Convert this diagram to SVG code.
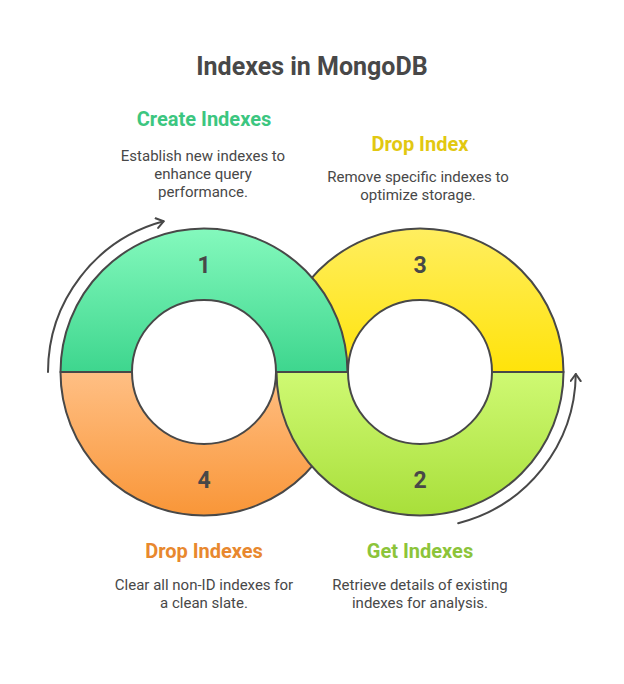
<svg xmlns="http://www.w3.org/2000/svg" width="624" height="684" viewBox="0 0 624 684">
<style>
.seg{stroke:#484848;stroke-width:2;stroke-linejoin:round}
.num{font-family:Roboto,"Liberation Sans",sans-serif;font-weight:700;font-size:23px;fill:#484848;text-anchor:middle}
.ttl{font-family:Roboto,"Liberation Sans",sans-serif;font-weight:700;font-size:20px;text-anchor:middle}
.desc{font-family:Roboto,"Liberation Sans",sans-serif;font-size:15px;fill:#484848;text-anchor:middle}
.arc{fill:none;stroke:#484848;stroke-width:2;stroke-linecap:round}
</style>
<defs>
<linearGradient id="gGreen" x1="0" y1="0" x2="0" y2="1"><stop offset="0" stop-color="#84F9BD"/><stop offset="1" stop-color="#3ED68E"/></linearGradient>
<linearGradient id="gOrange" x1="0" y1="0" x2="0" y2="1"><stop offset="0" stop-color="#FFBF84"/><stop offset="1" stop-color="#F99638"/></linearGradient>
<linearGradient id="gYellow" x1="0" y1="0" x2="0" y2="1"><stop offset="0" stop-color="#FFEE60"/><stop offset="1" stop-color="#FFE30A"/></linearGradient>
<linearGradient id="gLime" x1="0" y1="0" x2="0" y2="1"><stop offset="0" stop-color="#CFF973"/><stop offset="1" stop-color="#A8DF3A"/></linearGradient>
<marker id="arrow" viewBox="0 0 12 12" refX="10" refY="6" markerWidth="12" markerHeight="12" markerUnits="userSpaceOnUse" orient="auto">
<path d="M3 1 L10 6 L3 11" fill="none" stroke="#484848" stroke-width="2" stroke-linecap="round" stroke-linejoin="round"/>
</marker>
</defs>
<rect width="624" height="684" fill="#ffffff"/>
<text x="312" y="75" font-family="Roboto,'Liberation Sans',sans-serif" font-weight="700" font-size="25" fill="#484848" text-anchor="middle">Indexes in MongoDB</text>

<g id="node-3">
<path class="seg" fill="url(#gYellow)" d="M276.5 372 A143.5 143.5 0 0 1 563.5 372 L492 372 A72 72 0 0 0 348 372 Z"/>
<text class="num" x="420" y="273">3</text>
</g>
<g id="node-4">
<path class="seg" fill="url(#gOrange)" d="M60.5 372 A143.5 143.5 0 0 0 347.5 372 L276 372 A72 72 0 0 1 132 372 Z"/>
<text class="num" x="204" y="488">4</text>
</g>
<g id="node-1">
<path class="seg" fill="url(#gGreen)" d="M60.5 372 A143.5 143.5 0 0 1 347.5 372 L276 372 A72 72 0 0 0 132 372 Z"/>
<text class="num" x="204" y="273">1</text>
</g>
<g id="node-2">
<path class="seg" fill="url(#gLime)" d="M276.5 372 A143.5 143.5 0 0 0 563.5 372 L492 372 A72 72 0 0 1 348 372 Z"/>
<text class="num" x="420" y="488">2</text>
</g>

<g id="connectors">
<path class="arc" d="M48 372 A156 156 0 0 1 163.6 221.3" marker-end="url(#arrow)"/>
<path class="arc" d="M458.2 523.2 A156 156 0 0 0 575.8 374" marker-end="url(#arrow)"/>
</g>

<g id="label-1">
<text class="ttl" x="204" y="126" fill="#3CC680">Create Indexes</text>
<text class="desc" x="203" y="161">Establish new indexes to</text>
<text class="desc" x="203" y="179">enhance query</text>
<text class="desc" x="203" y="197">performance.</text>
</g>
<g id="label-3">
<text class="ttl" x="420" y="151" fill="#E2C811">Drop Index</text>
<text class="desc" x="418" y="182">Remove specific indexes to</text>
<text class="desc" x="418" y="200">optimize storage.</text>
</g>
<g id="label-4">
<text class="ttl" x="204" y="558" fill="#E8882E">Drop Indexes</text>
<text class="desc" x="204" y="590">Clear all non-ID indexes for</text>
<text class="desc" x="204" y="608">a clean slate.</text>
</g>
<g id="label-2">
<text class="ttl" x="420" y="558" fill="#8CC43A">Get Indexes</text>
<text class="desc" x="420" y="590">Retrieve details of existing</text>
<text class="desc" x="420" y="608">indexes for analysis.</text>
</g>
</svg>
